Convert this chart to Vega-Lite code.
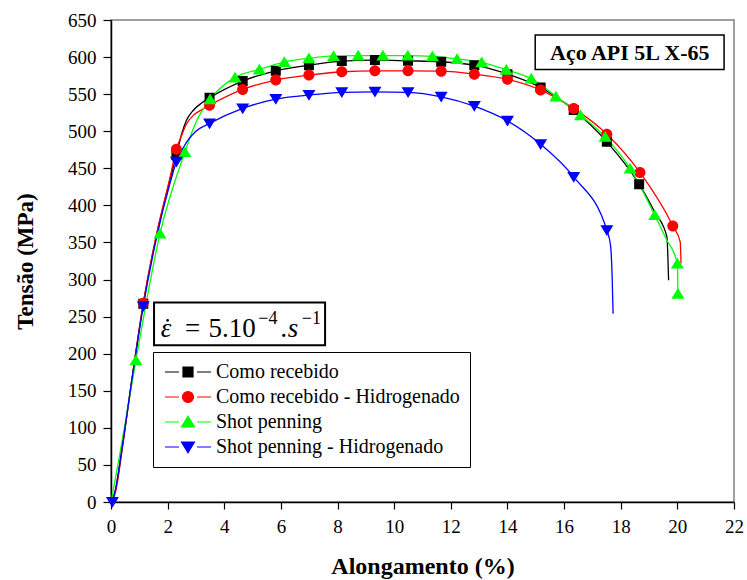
{
  "$schema": "https://vega.github.io/schema/vega-lite/v6.json",
  "width": 623,
  "height": 482,
  "autosize": {"type": "none"},
  "padding": {"left": 111, "top": 20, "right": 13, "bottom": 78},
  "background": "white",
  "config": {
    "font": "Liberation Serif",
    "style": {"guide-label": {"font": "Liberation Serif", "fill": "black"}, "guide-title": {"font": "Liberation Serif", "fill": "black"}},
    "view": {"stroke": "#808080", "strokeWidth": 1.5},
    "axis": {"grid": false, "domainColor": "black", "tickColor": "black", "labelColor": "black", "titleColor": "black", "labelFont": "Liberation Serif", "titleFont": "Liberation Serif", "domainWidth": 1.5, "tickWidth": 1.2, "labelFontSize": 19, "labelOverlap": false, "titleFontWeight": "bold", "labelFlush": false},
    "axisX": {"tickSize": 7, "labelPadding": 8, "tickCount": 11, "titleFontSize": 24, "titlePadding": 18, "labelFont": "Liberation Serif", "labelFontSize": 19},
    "axisY": {"tickSize": 8, "labelPadding": 7, "tickCount": 13, "titleFontSize": 23, "titlePadding": 30, "labelFont": "Liberation Serif", "labelFontSize": 19},
    "legend": {"orient": "none", "legendX": 42, "legendY": 332, "padding": 10, "rowPadding": 5, "strokeColor": "black", "fillColor": "white", "symbolSize": 100, "symbolOffset": 15, "labelOffset": 18, "symbolStrokeWidth": 1.2, "labelFont": "Liberation Serif", "labelFontSize": 20, "labelColor": "black", "labelLimit": 400}
  },
  "datasets": {
    "curves": [
      {"serie": "Como recebido", "x": 0, "y": 0, "m": 0},
      {"serie": "Como recebido", "x": 0.15, "y": 15, "m": 0},
      {"serie": "Como recebido", "x": 0.4, "y": 75, "m": 0},
      {"serie": "Como recebido", "x": 0.7, "y": 155, "m": 0},
      {"serie": "Como recebido", "x": 1.14, "y": 267.5, "m": 1},
      {"serie": "Como recebido", "x": 1.6, "y": 358, "m": 0},
      {"serie": "Como recebido", "x": 2.08, "y": 434, "m": 0},
      {"serie": "Como recebido", "x": 2.31, "y": 468, "m": 1},
      {"serie": "Como recebido", "x": 2.5, "y": 497, "m": 0},
      {"serie": "Como recebido", "x": 2.67, "y": 515, "m": 0},
      {"serie": "Como recebido", "x": 2.9, "y": 528, "m": 0},
      {"serie": "Como recebido", "x": 3.2, "y": 538, "m": 0},
      {"serie": "Como recebido", "x": 3.48, "y": 545, "m": 1},
      {"serie": "Como recebido", "x": 4.65, "y": 567.6, "m": 1},
      {"serie": "Como recebido", "x": 5.82, "y": 581.5, "m": 1},
      {"serie": "Como recebido", "x": 6.99, "y": 589, "m": 1},
      {"serie": "Como recebido", "x": 8.15, "y": 594.6, "m": 1},
      {"serie": "Como recebido", "x": 9.32, "y": 596, "m": 1},
      {"serie": "Como recebido", "x": 10.49, "y": 595, "m": 1},
      {"serie": "Como recebido", "x": 11.66, "y": 593.7, "m": 1},
      {"serie": "Como recebido", "x": 12.83, "y": 589, "m": 1},
      {"serie": "Como recebido", "x": 14.0, "y": 577, "m": 1},
      {"serie": "Como recebido", "x": 15.17, "y": 559, "m": 1},
      {"serie": "Como recebido", "x": 16.34, "y": 528.5, "m": 1},
      {"serie": "Como recebido", "x": 17.51, "y": 485.7, "m": 1},
      {"serie": "Como recebido", "x": 18.65, "y": 428.6, "m": 1},
      {"serie": "Como recebido", "x": 19.2, "y": 391, "m": 0},
      {"serie": "Como recebido", "x": 19.63, "y": 357.5, "m": 0},
      {"serie": "Como recebido", "x": 19.69, "y": 299, "m": 0},

      {"serie": "Como recebido - Hidrogenado", "x": 0, "y": 0, "m": 0},
      {"serie": "Como recebido - Hidrogenado", "x": 0.15, "y": 12, "m": 0},
      {"serie": "Como recebido - Hidrogenado", "x": 0.4, "y": 72, "m": 0},
      {"serie": "Como recebido - Hidrogenado", "x": 0.7, "y": 155, "m": 0},
      {"serie": "Como recebido - Hidrogenado", "x": 1.14, "y": 268, "m": 1},
      {"serie": "Como recebido - Hidrogenado", "x": 1.6, "y": 360, "m": 0},
      {"serie": "Como recebido - Hidrogenado", "x": 2.08, "y": 437, "m": 0},
      {"serie": "Como recebido - Hidrogenado", "x": 2.31, "y": 475.8, "m": 1},
      {"serie": "Como recebido - Hidrogenado", "x": 2.5, "y": 495, "m": 0},
      {"serie": "Como recebido - Hidrogenado", "x": 2.67, "y": 510, "m": 0},
      {"serie": "Como recebido - Hidrogenado", "x": 2.9, "y": 521, "m": 0},
      {"serie": "Como recebido - Hidrogenado", "x": 3.2, "y": 529, "m": 0},
      {"serie": "Como recebido - Hidrogenado", "x": 3.48, "y": 535, "m": 1},
      {"serie": "Como recebido - Hidrogenado", "x": 4.65, "y": 556.4, "m": 1},
      {"serie": "Como recebido - Hidrogenado", "x": 5.82, "y": 569, "m": 1},
      {"serie": "Como recebido - Hidrogenado", "x": 6.99, "y": 575.7, "m": 1},
      {"serie": "Como recebido - Hidrogenado", "x": 8.15, "y": 580.2, "m": 1},
      {"serie": "Como recebido - Hidrogenado", "x": 9.32, "y": 581.5, "m": 1},
      {"serie": "Como recebido - Hidrogenado", "x": 10.49, "y": 581.5, "m": 1},
      {"serie": "Como recebido - Hidrogenado", "x": 11.66, "y": 581, "m": 1},
      {"serie": "Como recebido - Hidrogenado", "x": 12.83, "y": 577, "m": 1},
      {"serie": "Como recebido - Hidrogenado", "x": 14.0, "y": 570, "m": 1},
      {"serie": "Como recebido - Hidrogenado", "x": 15.17, "y": 555.5, "m": 1},
      {"serie": "Como recebido - Hidrogenado", "x": 16.34, "y": 530.8, "m": 1},
      {"serie": "Como recebido - Hidrogenado", "x": 17.51, "y": 496, "m": 1},
      {"serie": "Como recebido - Hidrogenado", "x": 18.68, "y": 444.4, "m": 1},
      {"serie": "Como recebido - Hidrogenado", "x": 19.84, "y": 372.3, "m": 1},
      {"serie": "Como recebido - Hidrogenado", "x": 20.1, "y": 350.7, "m": 0},
      {"serie": "Como recebido - Hidrogenado", "x": 20.13, "y": 321.5, "m": 0},

      {"serie": "Shot penning", "x": 0, "y": 0, "m": 0},
      {"serie": "Shot penning", "x": 0.3, "y": 62, "m": 0},
      {"serie": "Shot penning", "x": 0.88, "y": 191, "m": 1},
      {"serie": "Shot penning", "x": 1.73, "y": 362, "m": 1},
      {"serie": "Shot penning", "x": 2.61, "y": 472, "m": 1},
      {"serie": "Shot penning", "x": 3.0, "y": 512, "m": 0},
      {"serie": "Shot penning", "x": 3.5, "y": 543, "m": 1},
      {"serie": "Shot penning", "x": 4.38, "y": 572.6, "m": 1},
      {"serie": "Shot penning", "x": 5.24, "y": 583.4, "m": 1},
      {"serie": "Shot penning", "x": 6.12, "y": 593.3, "m": 1},
      {"serie": "Shot penning", "x": 6.99, "y": 598.3, "m": 1},
      {"serie": "Shot penning", "x": 7.86, "y": 601.5, "m": 1},
      {"serie": "Shot penning", "x": 8.73, "y": 602, "m": 1},
      {"serie": "Shot penning", "x": 9.6, "y": 602, "m": 1},
      {"serie": "Shot penning", "x": 10.48, "y": 602, "m": 1},
      {"serie": "Shot penning", "x": 11.35, "y": 601, "m": 1},
      {"serie": "Shot penning", "x": 12.22, "y": 597.5, "m": 1},
      {"serie": "Shot penning", "x": 13.09, "y": 593, "m": 1},
      {"serie": "Shot penning", "x": 13.96, "y": 583, "m": 1},
      {"serie": "Shot penning", "x": 14.84, "y": 571, "m": 1},
      {"serie": "Shot penning", "x": 15.71, "y": 547, "m": 1},
      {"serie": "Shot penning", "x": 16.58, "y": 521.7, "m": 1},
      {"serie": "Shot penning", "x": 17.45, "y": 492.4, "m": 1},
      {"serie": "Shot penning", "x": 18.33, "y": 449.8, "m": 1},
      {"serie": "Shot penning", "x": 19.2, "y": 387, "m": 1},
      {"serie": "Shot penning", "x": 19.6, "y": 355, "m": 0},
      {"serie": "Shot penning", "x": 20.0, "y": 321.5, "m": 1},
      {"serie": "Shot penning", "x": 20.02, "y": 281, "m": 1},

      {"serie": "Shot penning - Hidrogenado", "x": 0.05, "y": 0, "m": 1},
      {"serie": "Shot penning - Hidrogenado", "x": 0.15, "y": 15, "m": 0},
      {"serie": "Shot penning - Hidrogenado", "x": 0.4, "y": 75, "m": 0},
      {"serie": "Shot penning - Hidrogenado", "x": 0.7, "y": 155, "m": 0},
      {"serie": "Shot penning - Hidrogenado", "x": 1.14, "y": 264, "m": 1},
      {"serie": "Shot penning - Hidrogenado", "x": 1.6, "y": 355, "m": 0},
      {"serie": "Shot penning - Hidrogenado", "x": 2.1, "y": 432, "m": 0},
      {"serie": "Shot penning - Hidrogenado", "x": 2.31, "y": 458.7, "m": 1},
      {"serie": "Shot penning - Hidrogenado", "x": 2.5, "y": 474, "m": 0},
      {"serie": "Shot penning - Hidrogenado", "x": 2.7, "y": 487, "m": 0},
      {"serie": "Shot penning - Hidrogenado", "x": 3.0, "y": 500, "m": 0},
      {"serie": "Shot penning - Hidrogenado", "x": 3.48, "y": 510.5, "m": 1},
      {"serie": "Shot penning - Hidrogenado", "x": 4.65, "y": 530.8, "m": 1},
      {"serie": "Shot penning - Hidrogenado", "x": 5.82, "y": 543.3, "m": 1},
      {"serie": "Shot penning - Hidrogenado", "x": 6.99, "y": 548.7, "m": 1},
      {"serie": "Shot penning - Hidrogenado", "x": 8.15, "y": 552.4, "m": 1},
      {"serie": "Shot penning - Hidrogenado", "x": 9.32, "y": 553.2, "m": 1},
      {"serie": "Shot penning - Hidrogenado", "x": 10.49, "y": 552.4, "m": 1},
      {"serie": "Shot penning - Hidrogenado", "x": 11.66, "y": 546.4, "m": 1},
      {"serie": "Shot penning - Hidrogenado", "x": 12.83, "y": 533.9, "m": 1},
      {"serie": "Shot penning - Hidrogenado", "x": 14.0, "y": 514, "m": 1},
      {"serie": "Shot penning - Hidrogenado", "x": 15.17, "y": 482.6, "m": 1},
      {"serie": "Shot penning - Hidrogenado", "x": 16.34, "y": 438.4, "m": 1},
      {"serie": "Shot penning - Hidrogenado", "x": 17.51, "y": 366.5, "m": 1},
      {"serie": "Shot penning - Hidrogenado", "x": 17.64, "y": 346, "m": 0},
      {"serie": "Shot penning - Hidrogenado", "x": 17.7, "y": 300, "m": 0},
      {"serie": "Shot penning - Hidrogenado", "x": 17.73, "y": 254, "m": 0}
    ],
    "one": [{}]
  },
  "layer": [
    {
      "data": {"name": "curves"},
      "mark": {"type": "line", "interpolate": "monotone", "strokeWidth": 1.3},
      "encoding": {
        "x": {"field": "x", "type": "quantitative", "title": "Alongamento (%)", "scale": {"domain": [0, 22], "nice": false},
          "axis": {"labelFont": "Liberation Serif", "labelFontSize": 19, "labelColor": "black"}},
        "y": {"field": "y", "type": "quantitative", "title": "Tensão (MPa)", "scale": {"domain": [0, 650], "nice": false},
          "axis": {"labelFont": "Liberation Serif", "labelFontSize": 19, "labelColor": "black"}},
        "color": {"field": "serie", "type": "nominal", "legend": null,
          "scale": {"range": ["#000000", "#ff0000", "#00ff00", "#0000ff"]}},
        "order": {"field": "x", "type": "quantitative"}
      }
    },
    {
      "data": {"name": "curves"},
      "transform": [{"filter": "datum.m == 1"}],
      "mark": {"type": "point", "filled": true, "size": 100, "opacity": 1},
      "encoding": {
        "x": {"field": "x", "type": "quantitative"},
        "y": {"field": "y", "type": "quantitative"},
        "fill": {"field": "serie", "type": "nominal", "legend": {"title": null},
          "scale": {"domain": ["Como recebido", "Como recebido - Hidrogenado", "Shot penning", "Shot penning - Hidrogenado"], "range": ["#000000", "#ff0000", "#00ff00", "#0000ff"]}},
        "stroke": {"field": "serie", "type": "nominal", "legend": {"title": null},
          "scale": {"domain": ["Como recebido", "Como recebido - Hidrogenado", "Shot penning", "Shot penning - Hidrogenado"], "range": ["#000000", "#ff0000", "#00ff00", "#0000ff"]}},
        "strokeWidth": {"value": 0},
        "shape": {"field": "serie", "type": "nominal", "legend": {"title": null},
          "scale": {"domain": ["Como recebido", "Como recebido - Hidrogenado", "Shot penning", "Shot penning - Hidrogenado"],
            "range": ["M-1,-1H1V1H-1ZM-4.6,0H-1.8M1.8,0H4.6", "M1.1,0A1.1,1.1 0 1,1 -1.1,0A1.1,1.1 0 1,1 1.1,0ZM-4.6,0H-1.8M1.8,0H4.6", "M0,-1.15L1.3,1L-1.3,1ZM-4.6,0H-1.8M1.8,0H4.6", "M0,1.15L1.3,-1L-1.3,-1ZM-4.6,0H-1.8M1.8,0H4.6"]}}
      }
    },
    {
      "data": {"name": "one"},
      "mark": {"type": "rect", "fill": "white", "stroke": "black", "strokeWidth": 1.5},
      "encoding": {
        "x": {"datum": 14.98, "type": "quantitative"}, "x2": {"datum": 21.65},
        "y": {"datum": 629.7, "type": "quantitative"}, "y2": {"datum": 583.4}
      }
    },
    {
      "data": {"name": "one"},
      "mark": {"type": "text", "text": "Aço API 5L X-65", "font": "Liberation Serif", "fontSize": 22, "fontWeight": "bold", "align": "center", "baseline": "alphabetic", "color": "black"},
      "encoding": {"x": {"datum": 18.32, "type": "quantitative"}, "y": {"datum": 596, "type": "quantitative"}}
    },
    {
      "data": {"name": "one"},
      "mark": {"type": "rect", "fill": "white", "stroke": "black", "strokeWidth": 2},
      "encoding": {
        "x": {"datum": 1.52, "type": "quantitative"}, "x2": {"datum": 7.56},
        "y": {"datum": 268.9, "type": "quantitative"}, "y2": {"datum": 211.3}
      }
    },
    {
      "data": {"name": "one"},
      "mark": {"type": "text", "text": "ε", "font": "Liberation Serif", "fontSize": 27, "fontStyle": "italic", "align": "left", "baseline": "alphabetic", "color": "black"},
      "encoding": {"x": {"datum": 1.76, "type": "quantitative"}, "y": {"datum": 222.5, "type": "quantitative"}}
    },
    {
      "data": {"name": "one"},
      "mark": {"type": "point", "shape": "circle", "filled": true, "size": 7, "color": "black", "opacity": 1},
      "encoding": {"x": {"datum": 2.0, "type": "quantitative"}, "y": {"datum": 245, "type": "quantitative"}}
    },
    {
      "data": {"name": "one"},
      "mark": {"type": "text", "text": "=", "font": "Liberation Serif", "fontSize": 27, "align": "left", "baseline": "alphabetic", "color": "black"},
      "encoding": {"x": {"datum": 2.61, "type": "quantitative"}, "y": {"datum": 222.5, "type": "quantitative"}}
    },
    {
      "data": {"name": "one"},
      "mark": {"type": "text", "text": "5.10", "font": "Liberation Serif", "fontSize": 27, "align": "left", "baseline": "alphabetic", "color": "black"},
      "encoding": {"x": {"datum": 3.44, "type": "quantitative"}, "y": {"datum": 222.5, "type": "quantitative"}}
    },
    {
      "data": {"name": "one"},
      "mark": {"type": "text", "text": "−4", "font": "Liberation Serif", "fontSize": 18, "align": "left", "baseline": "alphabetic", "color": "black"},
      "encoding": {"x": {"datum": 5.2, "type": "quantitative"}, "y": {"datum": 240.5, "type": "quantitative"}}
    },
    {
      "data": {"name": "one"},
      "mark": {"type": "text", "text": ".s", "font": "Liberation Serif", "fontSize": 27, "fontStyle": "italic", "align": "left", "baseline": "alphabetic", "color": "black"},
      "encoding": {"x": {"datum": 6.0, "type": "quantitative"}, "y": {"datum": 222.5, "type": "quantitative"}}
    },
    {
      "data": {"name": "one"},
      "mark": {"type": "text", "text": "−1", "font": "Liberation Serif", "fontSize": 18, "align": "left", "baseline": "alphabetic", "color": "black"},
      "encoding": {"x": {"datum": 6.74, "type": "quantitative"}, "y": {"datum": 240.5, "type": "quantitative"}}
    }
  ]
}
